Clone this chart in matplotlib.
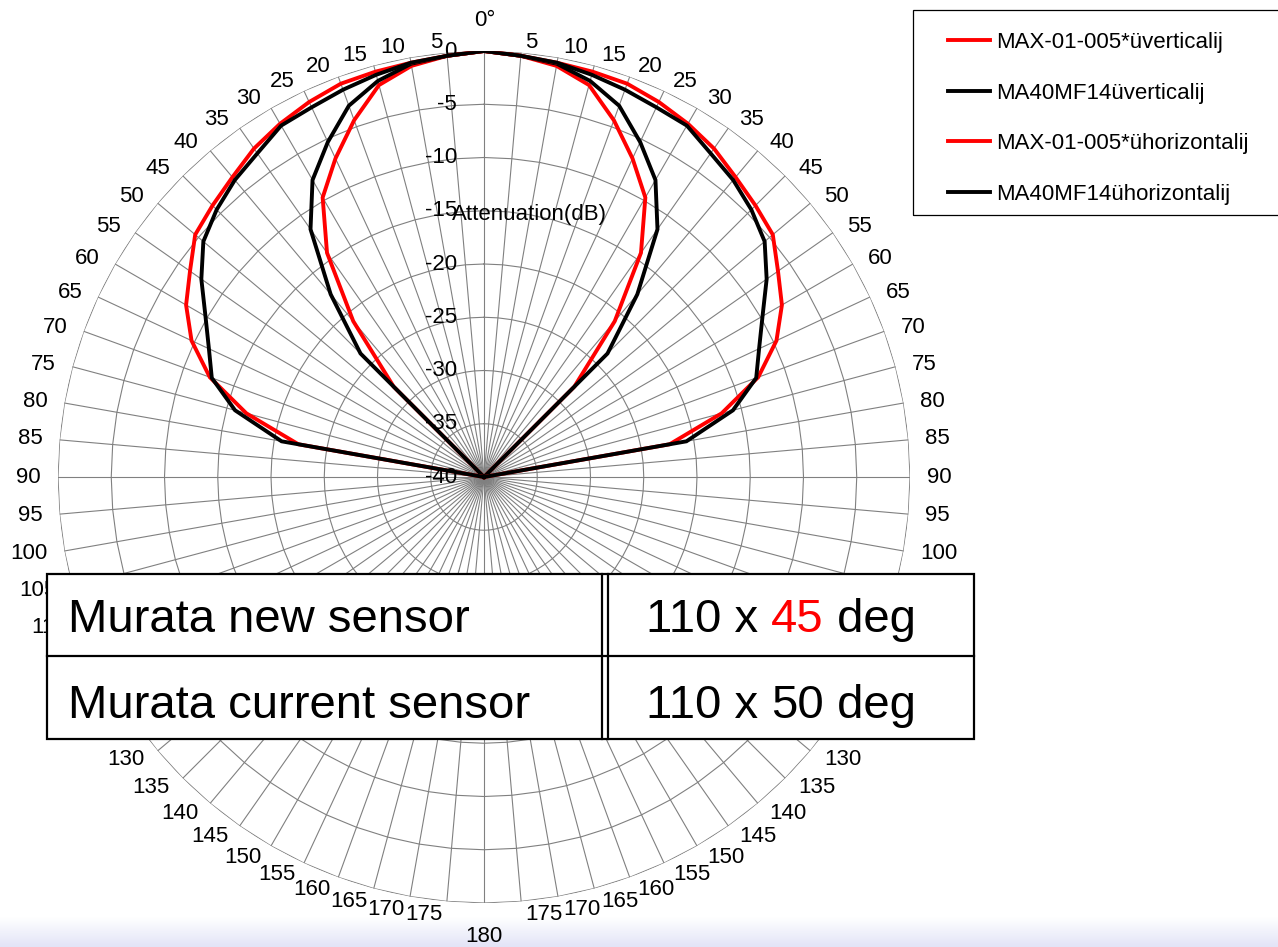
import numpy as np
import matplotlib
matplotlib.use("Agg")
import matplotlib.pyplot as plt
from matplotlib.patches import Rectangle
from matplotlib.lines import Line2D

plt.rcParams['font.family'] = ['Liberation Sans', 'DejaVu Sans']

W, H = 1278, 947

# angles, -90 .. 90 deg (0 = top, clockwise positive)
angulos = [-90, -85, -80, -75, -70, -65, -60, -55, -50, -45, -40, -35, -30, -25, -20, -15, -10, -5,
           0, 5, 10, 15, 20, 25, 30, 35, 40, 45, 50, 55, 60, 65, 70, 75, 80, 85, 90]

# attenuation (dB) per angle
max_vertical = [-40, -40, -40, -40, -40, -40, -40, -40, -40, -28.0, -20.9, -14.3, -9.7, -7.0, -4.35, -1.9, -0.8, -0.3,
                0, -0.3, -0.8, -1.9, -4.35, -7.0, -9.7, -14.3, -20.9, -28.0, -40, -40, -40, -40, -40, -40, -40, -40, -40]
ma40_vertical = [-40, -40, -40, -40, -40, -40, -40, -40, -40, -23.6, -17.6, -11.6, -7.8, -5.3, -2.9, -1.5, -0.6, -0.3,
                 0, -0.3, -0.6, -1.5, -2.9, -5.3, -7.8, -11.6, -17.6, -23.6, -40, -40, -40, -40, -40, -40, -40, -40, -40]
max_horizontal = [-40, -40, -22.3, -16.9, -12.6, -9.7, -7.7, -6.3, -4.6, -3.95, -3.25, -2.35, -1.7, -1.15, -0.7, -0.6, -0.5, -0.3,
                  0, -0.3, -0.5, -0.6, -0.7, -1.15, -1.7, -2.35, -3.25, -3.95, -4.6, -6.3, -7.7, -9.7, -12.6, -16.9, -22.3, -40, -40]
ma40_horizontal = [-40, -40, -20.7, -15.8, -12.8, -11.5, -9.8, -7.6, -5.6, -4.5, -3.6, -2.9, -1.9, -1.7, -1.3, -0.9, -0.5, -0.3,
                   0, -0.3, -0.5, -0.9, -1.3, -1.7, -1.9, -2.9, -3.6, -4.5, -5.6, -7.6, -9.8, -11.5, -12.8, -15.8, -20.7, -40, -40]

series = [
    ("MAX-01-005*\u00fcvertical\u0133", max_vertical, 'red'),
    ("MA40MF14\u00fcvertical\u0133", ma40_vertical, 'black'),
    ("MAX-01-005*\u00fchorizontal\u0133", max_horizontal, 'red'),
    ("MA40MF14\u00fchorizontal\u0133", ma40_horizontal, 'black'),
]

anillos = [-40, -35, -30, -25, -20, -15, -10, -5, 0]
radios_etiq = ["-40", "-35", "-30", "-25", "-20", "-15", "-10", "-5", "0"]
radios_grid = [-35, -30, -25, -20, -15, -10, -5, 0]

tabla_filas = ["Murata new sensor", "Murata current sensor"]
tabla_valores = [("110 x ", "45", " deg"), ("110 x ", "50", " deg")]


def px(x, y):
    # pixel position (from top-left) to figure fraction
    return x / W, 1 - y / H


fig = plt.figure(figsize=(W / 100, H / 100), dpi=100)

# light band at the bottom of the slide
band = fig.add_axes([0, 0, 1, 30 / H], zorder=-1)
grad = np.linspace(0, 1, 50).reshape(-1, 1)
band.imshow(grad, aspect='auto', cmap=matplotlib.colors.LinearSegmentedColormap.from_list(
    'b', ['#e2e4f7', '#ffffff']), origin='lower', extent=[0, 1, 0, 1])
band.axis('off')

cx, cy, R = 484, 477, 426
ax = fig.add_axes([(cx - R) / W, (H - cy - R) / H, 2 * R / W, 2 * R / H], projection='polar')
ax.set_theta_zero_location('N')
ax.set_theta_direction(-1)
ax.set_rlim(-40, 0)
ax.axis('off')

# polygon grid like the spreadsheet radar chart
grid_t = np.deg2rad(np.arange(0, 361, 5))
for v in radios_grid:
    ax.plot(grid_t, [v] * len(grid_t), color='#808080', lw=0.8, zorder=1)
for t in grid_t[:-1]:
    ax.plot([t, t], [-40, 0], color='#808080', lw=0.8, zorder=1)

lineas = []
for nombre, vals, col in series:
    l, = ax.plot(np.deg2rad(angulos), vals, color=col, lw=2.8, label=nombre, zorder=3,
                 solid_joinstyle='miter')
    lineas.append(l)

# angular labels
fs = 16
digit_px = 0.556 * fs * 100 / 72
for a in range(0, 360, 5):
    if a == 0:
        txt, dx, dy = "0°", 1, 31
    elif a == 180:
        txt, dx, dy = "180", 0, -33
    else:
        d = a if a < 180 else 360 - a
        txt = str(d)
        hw = len(txt) * digit_px / 2
        s = np.sin(np.deg2rad(a))
        c = np.cos(np.deg2rad(a))
        dx = (hw + 3) * np.sign(s) + 14 * s
        dy = (10.5 if c > 0 else 13) * c
    ax.annotate(txt, xy=(np.deg2rad(a), 0), xytext=(dx * 0.72, dy * 0.72),
                textcoords='offset points', ha='center', va='center', fontsize=fs,
                annotation_clip=False)

# radial labels
for v, s in zip(anillos, radios_etiq):
    ax.annotate(s, xy=(0, v), xytext=(-27 * 0.72, 0), textcoords='offset points',
                ha='right', va='center', fontsize=fs, annotation_clip=False, zorder=4)

fig.text(*px(452, 220), "Attenuation(dB)", fontsize=fs, ha='left', va='baseline')

# legend
fig.legend(handles=lineas, loc='upper left', bbox_to_anchor=px(948, 32), frameon=False,
           fontsize=16, handlelength=1.9, handletextpad=0.25, labelspacing=1.33,
           borderpad=0, borderaxespad=0)
x0, y0 = px(913, 215)
x1, y1 = px(1290, 10)
fig.add_artist(Rectangle((x0, y0), x1 - x0, y1 - y0, transform=fig.transFigure,
                         fill=False, edgecolor='black', lw=0.9))

# table box overlaid on the chart
tx0, ty0 = px(47, 739)
tx1, ty1 = px(974, 574)
fig.add_artist(Rectangle((tx0, ty0), tx1 - tx0, ty1 - ty0, transform=fig.transFigure,
                         facecolor='white', edgecolor='black', lw=1.6, zorder=6))
for xv in (602, 608):
    fig.add_artist(Line2D([xv / W, xv / W], [ty0, ty1], transform=fig.transFigure,
                          color='black', lw=1.6, zorder=7))
fig.add_artist(Line2D([tx0, tx1], [1 - 656 / H, 1 - 656 / H], transform=fig.transFigure,
                      color='black', lw=1.6, zorder=7))

for fila, partes, yb in zip(tabla_filas, tabla_valores, (632, 718)):
    fig.text(*px(68, yb), fila, fontsize=34, ha='left', va='baseline', zorder=8)
    t1 = fig.text(*px(646, yb), partes[0], fontsize=34, ha='left', va='baseline', zorder=8)
    col = 'red' if partes[1] == "45" else 'black'
    t2 = fig.text(*px(646, yb), partes[1], fontsize=34, ha='left', va='baseline', zorder=8, color=col)
    t3 = fig.text(*px(646, yb), partes[2], fontsize=34, ha='left', va='baseline', zorder=8)
    fig.canvas.draw()
    r = fig.canvas.get_renderer()
    e1 = t1.get_window_extent(r)
    t2.set_x(e1.x1 / W)
    e2 = t2.get_window_extent(r)
    t3.set_x(e2.x1 / W)

fig.savefig("out.png", dpi=100)
